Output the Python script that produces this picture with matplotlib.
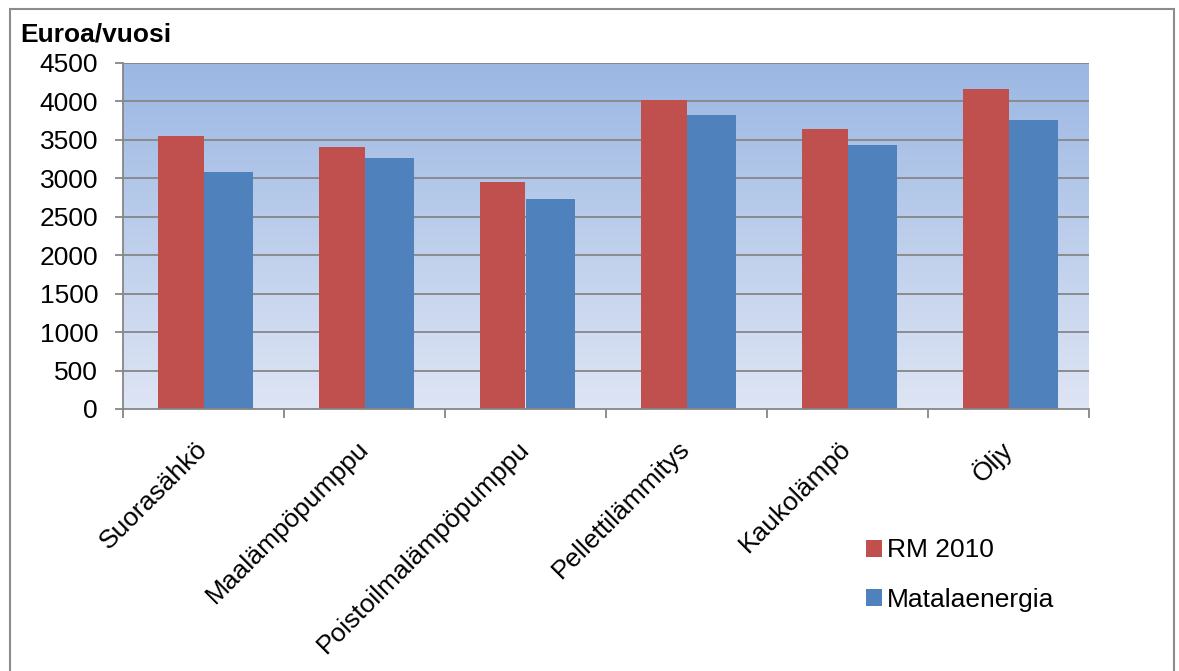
import matplotlib
matplotlib.use("Agg")
import matplotlib.pyplot as plt
import numpy as np
from matplotlib.patches import Rectangle, Patch

categories = ["Suorasähkö", "Maalämpöpumppu", "Poistoilmalämpöpumppu",
              "Pellettilämmitys", "Kaukolämpö", "Öljy"]
rm2010 = [3555, 3410, 2950, 4020, 3640, 4165]
matala = [3080, 3270, 2735, 3820, 3440, 3755]
series_names = ["RM 2010", "Matalaenergia"]
yticks = [0, 500, 1000, 1500, 2000, 2500, 3000, 3500, 4000, 4500]

plt.rcParams['font.family'] = ['Liberation Sans', 'DejaVu Sans']

W, H = 1179, 671
fig = plt.figure(figsize=(W / 100, H / 100), dpi=100)
fig.patch.set_facecolor('white')

# figure frame
fig.patches.append(Rectangle((10 / W, -0.05), (1174 - 10) / W, (H - 9) / H + 0.05,
                             transform=fig.transFigure, fill=False,
                             edgecolor='#8c8c8c', lw=1.5, zorder=0))

left, right, top, bottom = 123, 1089, 63, 409
ax = fig.add_axes([left / W, (H - bottom) / H, (right - left) / W, (bottom - top) / H])

grid_c = '#868686'
# gradient background
grad = np.linspace(0, 1, 256).reshape(-1, 1)
c_top = np.array([155, 183, 227]) / 255
c_bot = np.array([222, 229, 244]) / 255
img = c_top[None, None, :] * (1 - grad[:, :, None]) + c_bot[None, None, :] * grad[:, :, None]
ax.imshow(img, extent=[0, 1, 0, 1], transform=ax.transAxes, aspect='auto', zorder=0)

x = np.arange(len(categories))
w = 0.285
ax.bar(x - w / 2, rm2010, width=w, color='#C0504D', zorder=3, label=series_names[0])
ax.bar(x + w / 2 + 0.01, matala, width=w + 0.02, color='#4F81BD', zorder=3, label=series_names[1])

ax.set_xlim(-0.5, len(categories) - 0.5)
ax.set_ylim(0, 4500)
ax.set_yticks(yticks)
ax.set_yticklabels([str(v) for v in yticks], fontsize=19)
for v in yticks[1:]:
    ax.axhline(v, color=grid_c, lw=1.3, zorder=1)

ax.set_xticks(x)
ax.set_xticklabels(categories, fontsize=19, rotation=45, ha='right', va='center',
                   rotation_mode='anchor')
ax.set_xticks(np.arange(-0.5, len(categories), 1.0), minor=True)
ax.tick_params(axis='x', which='major', length=0, pad=26)
ax.tick_params(axis='x', which='minor', length=6.5, width=1.3, color=grid_c)
ax.tick_params(axis='y', length=6, width=1.3, color=grid_c, pad=12, labelsize=19)

for s in ['top', 'right']:
    ax.spines[s].set_visible(False)
for s in ['left', 'bottom']:
    ax.spines[s].set_color(grid_c)
    ax.spines[s].set_linewidth(1.3)
    ax.spines[s].set_zorder(4)

fig.text(20 / W, (H - 42) / H, "Euroa/vuosi", fontsize=19, fontweight='bold',
         ha='left', va='baseline')

handles = [Patch(facecolor='#C0504D'), Patch(facecolor='#4F81BD')]
fig.legend(handles, series_names, loc='center left',
           bbox_to_anchor=(842 / W, (H - 575) / H), frameon=False, fontsize=19,
           handlelength=0.6, handleheight=0.6, handletextpad=0.2, labelspacing=0.95)

fig.savefig("out.png", dpi=100, facecolor='white')
